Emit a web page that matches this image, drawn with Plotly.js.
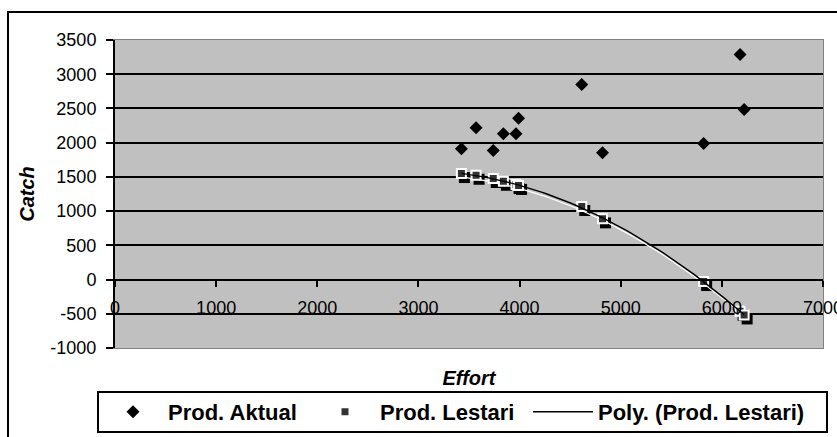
<!DOCTYPE html>
<html>
<head>
<meta charset="utf-8">
<script src="https://cdn.plot.ly/plotly-3.0.1.min.js"></script>
<style>html,body{margin:0;padding:0;background:#fff;}#chart{width:837px;height:437px;}</style>
</head>
<body>
<div id="chart"></div>
<script>
// ---- data ----
const effort = [3425, 3570, 3740, 3840, 3965, 3990, 4615, 4820, 5820, 6180, 6220];
const prodAktual = [1910, 2217, 1885, 2129, 2129, 2357, 2849, 1851, 1987, 3288, 2484];
const prodLestari = [1549, 1524, 1476, 1436, 1388, 1375, 1067, 887, -29, -463, -517];
const seriesNames = ['Prod. Aktual', 'Prod. Lestari', 'Poly. (Prod. Lestari)'];
const xTitle = 'Effort';
const yTitle = 'Catch';
const xTickVals = [0, 1000, 2000, 3000, 4000, 5000, 6000, 7000];
const xTickText = ['0', '1000', '2000', '3000', '4000', '5000', '6000', '7000'];
const yTickVals = [-1000, -500, 0, 500, 1000, 1500, 2000, 2500, 3000, 3500];
const yTickText = ['-1000', '-500', '0', '500', '1000', '1500', '2000', '2500', '3000', '3500'];
const yGridVals = [-500, 0, 500, 1000, 1500, 2000, 2500, 3000];
const xRange = [0, 7000];
const yRange = [-1000, 3500];

// ---- layout geometry ----
const W = 837, H = 437;
const M = {l: 115, r: 14, t: 40, b: 89, pad: 0, autoexpand: false};
const plotW = W - M.l - M.r, plotH = H - M.t - M.b;
const uxPerPx = (xRange[1] - xRange[0]) / plotW;
const uyPerPx = (yRange[1] - yRange[0]) / plotH;
const px2x = px => (px - M.l) / plotW;          // pixel -> paper x
const py2y = py => (M.t + plotH - py) / plotH;  // pixel -> paper y
// shadow offset (px) for Excel-like marker shadow
const sdx = 3, sdy = 4;
const xRangeShadow = [xRange[0] - sdx * uxPerPx, xRange[1] - sdx * uxPerPx];
const yRangeShadow = [yRange[0] + sdy * uyPerPx, yRange[1] + sdy * uyPerPx];

// ---- 2nd-order polynomial trendline fitted to Prod. Lestari ----
function polyFit2(xs, ys) {
  let s0 = 0, s1 = 0, s2 = 0, s3 = 0, s4 = 0, t0 = 0, t1 = 0, t2 = 0;
  for (let i = 0; i < xs.length; i++) {
    const x = xs[i] / 1000, y = ys[i];
    s0 += 1; s1 += x; s2 += x * x; s3 += x * x * x; s4 += x * x * x * x;
    t0 += y; t1 += x * y; t2 += x * x * y;
  }
  const A = [[s0, s1, s2, t0], [s1, s2, s3, t1], [s2, s3, s4, t2]];
  for (let i = 0; i < 3; i++) {
    for (let k = i + 1; k < 3; k++) {
      const f = A[k][i] / A[i][i];
      for (let j = i; j < 4; j++) A[k][j] -= f * A[i][j];
    }
  }
  const c = [0, 0, 0];
  for (let i = 2; i >= 0; i--) {
    let s = A[i][3];
    for (let j = i + 1; j < 3; j++) s -= A[i][j] * c[j];
    c[i] = s / A[i][i];
  }
  return x => { const u = x / 1000; return c[0] + c[1] * u + c[2] * u * u; };
}
const fit = polyFit2(effort, prodLestari);
const eMin = Math.min(...effort), eMax = Math.max(...effort);
const trendX = [], trendY = [];
for (let i = 0; i <= 60; i++) {
  const x = eMin + (eMax - eMin) * i / 60;
  trendX.push(x); trendY.push(fit(x));
}

const traces = [
  {
    x: effort, y: prodAktual, type: 'scatter', mode: 'markers', name: seriesNames[0],
    xaxis: 'x', yaxis: 'y', legend: 'legend', legendrank: 1,
    marker: {symbol: 'diamond', size: 10, color: '#000000', line: {width: 0}}
  },
  {
    x: effort, y: prodLestari, type: 'scatter', mode: 'markers', showlegend: false,
    xaxis: 'x2', yaxis: 'y2', hoverinfo: 'skip',
    marker: {symbol: 'square', size: 11, color: '#000000', line: {width: 0}}
  },
  {
    x: trendX, y: trendY, type: 'scatter', mode: 'lines', showlegend: false,
    xaxis: 'x2', yaxis: 'y2', hoverinfo: 'skip',
    line: {color: '#ffffff', width: 1.2}
  },
  {
    x: effort, y: prodLestari, type: 'scatter', mode: 'markers', name: seriesNames[1],
    xaxis: 'x3', yaxis: 'y3', legend: 'legend', legendrank: 2,
    marker: {symbol: 'square', size: 9, color: '#333333', line: {color: '#ffffff', width: 2}}
  },
  {
    x: trendX, y: trendY, type: 'scatter', mode: 'lines', name: seriesNames[2],
    xaxis: 'x3', yaxis: 'y3', legend: 'legend2',
    line: {color: '#000000', width: 1.4}
  }
];

const FAM = 'Liberation Sans, Arial, sans-serif';
const tickFont = {family: FAM, size: 18, color: '#000'};
const titleFont = {family: FAM, size: 20, color: '#000', weight: 'bold', style: 'italic'};
const legendFont = {family: FAM, size: 22, color: '#000', weight: 'bold'};

const layout = {
  width: W, height: H, margin: M,
  paper_bgcolor: '#ffffff', plot_bgcolor: '#C0C0C0',
  font: {family: FAM, color: '#000'},
  showlegend: true,
  xaxis: {
    range: xRange, tickmode: 'array', tickvals: xTickVals, ticktext: xTickText,
    anchor: 'free', position: (0 - yRange[0]) / (yRange[1] - yRange[0]),
    showline: true, linecolor: '#000', linewidth: 2,
    ticks: 'outside', ticklen: 6, tickwidth: 2, tickcolor: '#000',
    ticklabelstandoff: 6, ticklabeloverflow: 'allow',
    showgrid: false, zeroline: false, tickfont: tickFont, automargin: false, fixedrange: true
  },
  yaxis: {
    range: yRange, tickmode: 'array', tickvals: yTickVals, ticktext: yTickText, anchor: 'x3',
    showline: true, linecolor: '#000', linewidth: 2,
    ticks: 'outside', ticklen: 7, tickwidth: 2, tickcolor: '#000',
    ticklabelstandoff: 6,
    showgrid: false, zeroline: false,
    tickfont: tickFont, automargin: false, fixedrange: true,
    title: {text: yTitle, font: titleFont, standoff: 10}
  },
  xaxis2: {overlaying: 'x', anchor: 'y2', range: xRangeShadow, visible: false, fixedrange: true},
  yaxis2: {overlaying: 'y', anchor: 'x2', range: yRangeShadow, visible: false, fixedrange: true},
  xaxis3: {
    overlaying: 'x', anchor: 'y3', range: xRange, side: 'bottom',
    showline: true, linecolor: '#808080', linewidth: 1, mirror: true,
    ticks: '', showticklabels: false, showgrid: false, zeroline: false,
    automargin: false, fixedrange: true,
    title: {text: xTitle, font: titleFont, standoff: 22}
  },
  yaxis3: {
    overlaying: 'y', anchor: 'x3', range: yRange, side: 'right',
    tickmode: 'array', tickvals: yGridVals,
    showline: true, linecolor: '#808080', linewidth: 1,
    ticks: '', showticklabels: false, showgrid: true, gridcolor: '#000', gridwidth: 2,
    zeroline: false, automargin: false, fixedrange: true
  },
  legend: {
    orientation: 'h', x: px2x(98), xanchor: 'left', y: py2y(391), yanchor: 'top',
    bgcolor: 'rgba(0,0,0,0)', borderwidth: 0,
    font: legendFont, itemwidth: 60, entrywidth: 137, entrywidthmode: 'pixels',
    traceorder: 'normal'
  },
  legend2: {
    orientation: 'h', x: px2x(528), xanchor: 'left', y: py2y(391), yanchor: 'top',
    bgcolor: 'rgba(0,0,0,0)', borderwidth: 0,
    font: legendFont, itemwidth: 60
  },
  shapes: [
    {type: 'rect', xref: 'paper', yref: 'paper',
     x0: px2x(8), x1: px2x(W + 10), y0: py2y(H + 10), y1: py2y(12),
     line: {color: '#000', width: 2}, fillcolor: 'rgba(0,0,0,0)', layer: 'below'},
    {type: 'rect', xref: 'paper', yref: 'paper',
     x0: px2x(98), x1: px2x(827), y0: py2y(432), y1: py2y(392),
     line: {color: '#000', width: 2}, fillcolor: '#ffffff', layer: 'above'}
  ]
};

Plotly.newPlot('chart', traces, layout, {displayModeBar: false, staticPlot: true});
</script>
</body>
</html>
